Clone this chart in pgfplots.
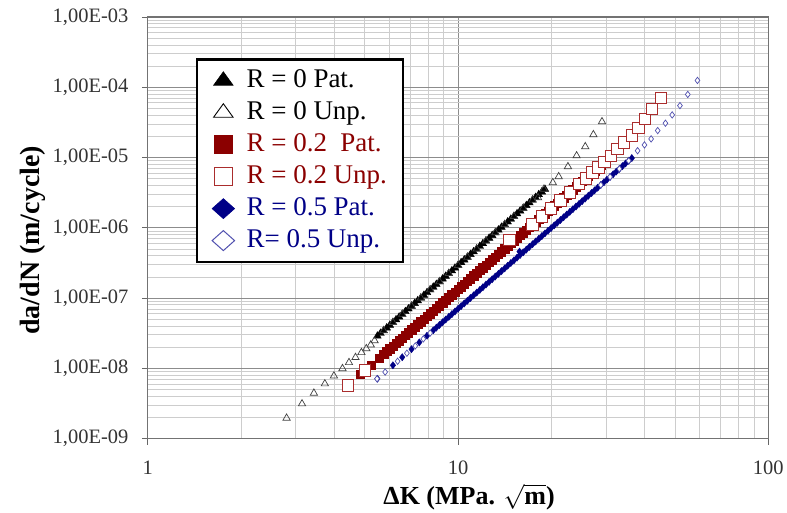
\documentclass[border=0pt]{standalone}
\usepackage{pgfplots}
\pgfplotsset{compat=1.18}
\usepackage{fontspec}
\setmainfont{Liberation Serif}
\usetikzlibrary{calc}
\definecolor{dred}{RGB}{139,0,0}
\definecolor{ored}{RGB}{170,45,45}
\definecolor{dblue}{RGB}{0,0,135}
\definecolor{oblue}{RGB}{80,80,175}
\definecolor{majgrid}{RGB}{140,140,140}
\definecolor{mingrid}{RGB}{205,205,205}
\begin{document}
\begin{tikzpicture}
\begin{loglogaxis}[
  name=ax,
  width=621pt, height=422pt, scale only axis,
  xmin=1, xmax=100, ymin=1e-9, ymax=1e-3,
  xtick={1,10,100}, xticklabels={1,10,100},
  minor xtick={2,3,4,5,6,7,8,9,20,30,40,50,60,70,80,90},
  ytick={1e-9,1e-8,1e-7,1e-6,1e-5,1e-4,1e-3},
  yticklabels={{1,00E-09},{1,00E-08},{1,00E-07},{1,00E-06},{1,00E-05},{1,00E-04},{1,00E-03}},
  minor ytick={2e-9,3e-9,4e-9,5e-9,6e-9,7e-9,8e-9,9e-9,
    2e-8,3e-8,4e-8,5e-8,6e-8,7e-8,8e-8,9e-8,
    2e-7,3e-7,4e-7,5e-7,6e-7,7e-7,8e-7,9e-7,
    2e-6,3e-6,4e-6,5e-6,6e-6,7e-6,8e-6,9e-6,
    2e-5,3e-5,4e-5,5e-5,6e-5,7e-5,8e-5,9e-5,
    2e-4,3e-4,4e-4,5e-4,6e-4,7e-4,8e-4,9e-4},
  grid=both,
  major grid style={majgrid, line width=0.9pt},
  minor grid style={mingrid, line width=0.8pt},
  axis line style={black!55, line width=1.2pt},
  tick align=outside, xtick pos=bottom, ytick pos=left,
  major tick length=6pt, minor tick length=0pt,
  tick style={black!60, line width=0.8pt},
  tick label style={font=\fontsize{20.5}{24}\selectfont, text=black!80},
  xticklabel style={yshift=-13pt},
  yticklabel style={xshift=-10pt},
  label style={font=\bfseries\fontsize{26}{30}\selectfont},
  xlabel={ΔK (MPa. $\sqrt{\mathbf{m}}$)},
  ylabel={da/dN (m/cycle)},
  xlabel style={xshift=11pt, yshift=-2pt},
  ylabel style={font=\bfseries\fontsize{28}{32}\selectfont, at={(ticklabel cs:0.47)}},
  legend cell align=left,
  legend style={at={(0.0773,0.9028)}, anchor=north west, draw=black, line width=2.6pt, fill=white,
    font=\fontsize{27}{30}\selectfont, row sep=5pt, inner xsep=15pt, inner ysep=8pt,
    nodes={inner sep=1pt, text height=19pt, text depth=6pt},
    /tikz/every odd column/.append style={column sep=11pt}},
]
\addplot[only marks, mark=triangle*, mark size=4.4pt, black,
  legend image code/.code={\draw[black,fill=black,mark=triangle*,mark size=9pt,line width=0.6pt,mark options={xscale=1.25}] plot coordinates {(0pt,0pt)};}]
table {
x y
5.495 2.884e-8
5.623 3.153e-8
5.754 3.446e-8
5.888 3.768e-8
6.026 4.119e-8
6.166 4.503e-8
6.310 4.922e-8
6.457 5.381e-8
6.607 5.883e-8
6.761 6.431e-8
6.918 7.030e-8
7.079 7.685e-8
7.244 8.402e-8
7.413 9.185e-8
7.586 1.004e-7
7.762 1.098e-7
7.943 1.200e-7
8.128 1.312e-7
8.318 1.434e-7
8.511 1.568e-7
8.710 1.714e-7
8.913 1.874e-7
9.120 2.048e-7
9.333 2.239e-7
9.550 2.448e-7
9.772 2.676e-7
10.00 2.925e-7
10.23 3.198e-7
10.47 3.496e-7
10.72 3.822e-7
10.96 4.178e-7
11.22 4.568e-7
11.48 4.993e-7
11.75 5.458e-7
12.02 5.967e-7
12.30 6.524e-7
12.59 7.132e-7
12.88 7.796e-7
13.18 8.523e-7
13.49 9.318e-7
13.80 1.019e-6
14.13 1.114e-6
14.45 1.217e-6
14.79 1.331e-6
15.14 1.455e-6
15.49 1.590e-6
15.85 1.739e-6
16.22 1.901e-6
16.60 2.078e-6
16.98 2.271e-6
17.38 2.483e-6
17.78 2.715e-6
18.20 2.968e-6
18.62 3.244e-6
19.05 3.547e-6
};
\addlegendentry{R = 0 Pat.}
\addplot[only marks, mark=triangle, mark size=4.2pt, black!75, mark options={line width=0.7pt},
  legend image code/.code={\draw[black,mark=triangle,mark size=9pt,line width=0.9pt,mark options={xscale=1.25}] plot coordinates {(0pt,0pt)};}]
table {
x y
2.80 1.96e-9
3.14 3.13e-9
3.43 4.44e-9
3.72 6.03e-9
3.98 7.82e-9
4.24 9.93e-9
4.45 1.21e-8
4.67 1.43e-8
4.88 1.68e-8
5.06 1.91e-8
5.23 2.16e-8
5.38 2.48e-8
5.754 3.446e-8
6.166 4.503e-8
6.607 5.883e-8
7.079 7.685e-8
7.586 1.004e-7
8.128 1.312e-7
8.710 1.714e-7
9.333 2.239e-7
10.00 2.925e-7
10.72 3.822e-7
11.48 4.993e-7
12.30 6.524e-7
13.18 8.523e-7
14.13 1.114e-6
15.14 1.455e-6
16.22 1.901e-6
17.38 2.483e-6
18.1 2.69e-6
18.9 3.54e-6
20.2 4.40e-6
21.1 5.35e-6
22.6 7.43e-6
24.1 1.06e-5
25.7 1.43e-5
27.3 2.12e-5
29.1 3.24e-5
};
\addlegendentry{R = 0 Unp.}
\addplot[only marks, mark=square*, mark size=4.2pt, dred,
  legend image code/.code={\draw[dred,fill=dred,mark=square*,mark size=9pt,line width=0.6pt] plot coordinates {(0pt,0pt)};}]
table {
x y
4.416 5.754e-9
4.842 8.197e-9
5.248 1.117e-8
5.559 1.393e-8
5.754 1.591e-8
5.888 1.738e-8
6.026 1.899e-8
6.166 2.075e-8
6.310 2.267e-8
6.457 2.476e-8
6.607 2.705e-8
6.761 2.955e-8
6.918 3.229e-8
7.079 3.527e-8
7.244 3.854e-8
7.413 4.210e-8
7.586 4.600e-8
7.762 5.025e-8
7.943 5.490e-8
8.128 5.998e-8
8.318 6.553e-8
8.511 7.159e-8
8.710 7.821e-8
8.913 8.544e-8
9.120 9.335e-8
9.333 1.020e-7
9.550 1.114e-7
9.772 1.217e-7
10.00 1.329e-7
10.23 1.452e-7
10.47 1.587e-7
10.72 1.733e-7
10.96 1.894e-7
11.22 2.069e-7
11.48 2.260e-7
11.75 2.469e-7
12.02 2.698e-7
12.30 2.947e-7
12.59 3.220e-7
12.88 3.518e-7
13.18 3.843e-7
13.49 4.199e-7
13.80 4.587e-7
14.13 5.011e-7
14.45 5.475e-7
14.79 5.981e-7
15.14 6.535e-7
15.49 7.139e-7
15.85 7.799e-7
16.22 8.521e-7
16.60 9.309e-7
16.98 1.015e-6
17.38 1.109e-6
17.78 1.212e-6
18.20 1.324e-6
18.62 1.446e-6
19.05 1.580e-6
19.50 1.726e-6
19.95 1.886e-6
20.42 2.060e-6
20.89 2.251e-6
21.38 2.459e-6
21.88 2.686e-6
22.39 2.935e-6
22.91 3.206e-6
23.44 3.503e-6
23.99 3.827e-6
24.55 4.181e-6
25.12 4.568e-6
25.70 4.990e-6
26.30 5.452e-6
26.92 5.956e-6
27.54 6.507e-6
28.18 7.109e-6
28.84 7.766e-6
};
\addlegendentry{\textcolor{dred}{R = 0.2\ \ Pat.}}
\addplot[only marks, mark=square*, mark size=5.8pt, ored, mark options={draw=ored, fill=white, line width=0.9pt},
  legend image code/.code={\draw[ored,mark=square,mark size=9pt,line width=1.2pt] plot coordinates {(0pt,0pt)};}]
table {
x y
4.42 5.75e-9
5.012 9.36e-9
14.65 6.73e-7
17.38 1.109e-6
18.62 1.446e-6
19.95 1.886e-6
21.38 2.459e-6
22.91 3.206e-6
24.55 4.181e-6
25.8 5.05e-6
27.1 6.14e-6
28.3 7.22e-6
29.6 8.65e-6
31.1 1.05e-5
32.6 1.32e-5
34.3 1.64e-5
36.3 2.06e-5
38.1 2.64e-5
40.0 3.54e-5
42.2 4.91e-5
45.1 7.05e-5
};
\addlegendentry{\textcolor{dred}{R = 0.2 Unp.}}
\addplot[only marks, mark=diamond*, mark size=3.6pt, dblue,
  legend image code/.code={\draw[dblue,fill=dblue,mark=diamond*,mark size=10pt,line width=0.6pt,mark options={xscale=1.5}] plot coordinates {(0pt,0pt)};}]
table {
x y
5.495 7.11e-9
6.166 1.104e-8
6.607 1.439e-8
7.079 1.875e-8
7.499 2.339e-8
7.943 2.914e-8
8.318 3.476e-8
8.511 3.797e-8
8.710 4.147e-8
8.913 4.530e-8
9.120 4.947e-8
9.333 5.403e-8
9.550 5.902e-8
9.772 6.446e-8
10.00 7.040e-8
10.23 7.689e-8
10.47 8.398e-8
10.72 9.172e-8
10.96 1.002e-7
11.22 1.094e-7
11.48 1.195e-7
11.75 1.305e-7
12.02 1.425e-7
12.30 1.557e-7
12.59 1.700e-7
12.88 1.857e-7
13.18 2.028e-7
13.49 2.215e-7
13.80 2.419e-7
14.13 2.642e-7
14.45 2.886e-7
14.79 3.152e-7
15.14 3.442e-7
15.49 3.760e-7
15.78 4.58e-7
15.85 4.106e-7
16.22 4.485e-7
16.60 4.898e-7
16.98 5.350e-7
17.38 5.843e-7
17.78 6.382e-7
18.20 6.970e-7
18.62 7.613e-7
19.05 8.315e-7
19.50 9.081e-7
19.95 9.918e-7
20.42 1.083e-6
20.89 1.183e-6
21.38 1.292e-6
21.88 1.411e-6
22.39 1.541e-6
22.91 1.683e-6
23.44 1.839e-6
23.99 2.008e-6
24.55 2.193e-6
25.12 2.396e-6
25.70 2.616e-6
26.30 2.858e-6
26.92 3.121e-6
27.54 3.409e-6
28.18 3.723e-6
28.84 4.066e-6
29.51 4.441e-6
30.20 4.851e-6
30.90 5.298e-6
31.62 5.786e-6
32.36 6.320e-6
33.11 6.902e-6
33.88 7.539e-6
34.67 8.234e-6
35.48 8.993e-6
36.31 9.822e-6
};
\addlegendentry{\textcolor{dblue}{R = 0.5 Pat.}}
\addplot[only marks, mark=diamond*, mark size=3.2pt, oblue, mark options={draw=oblue, fill=white, line width=0.7pt},
  legend image code/.code={\draw[oblue,mark=diamond,mark size=10pt,line width=1pt,mark options={xscale=1.5}] plot coordinates {(0pt,0pt)};}]
table {
x y
5.48 7.1e-9
5.82 8.86e-9
6.383 1.261e-8
6.839 1.643e-8
7.278 2.085e-8
7.727 2.621e-8
8.128 3.183e-8
28.84 4.066e-6
30.90 5.298e-6
33.11 6.902e-6
35.48 8.993e-6
37.9 1.25e-5
39.9 1.51e-5
41.9 1.84e-5
44.0 2.42e-5
46.6 3.08e-5
49.0 4.04e-5
51.9 5.48e-5
55.0 7.9e-5
59.1 1.25e-4
};
\addlegendentry{\textcolor{dblue}{R= 0.5 Unp.}}
\end{loglogaxis}
\path ($(ax.south west)+(-148pt,-74pt)$) rectangle ($(ax.north east)+(18pt,17pt)$);
\end{tikzpicture}
\end{document}
